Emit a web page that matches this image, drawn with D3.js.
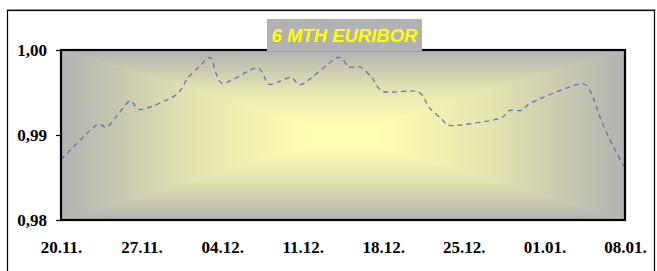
<!DOCTYPE html>
<html>
<head>
<meta charset="utf-8">
<script src="https://cdn.jsdelivr.net/npm/d3@7"></script>
<style>
  html, body { margin: 0; padding: 0; background: #fff; }
  svg { display: block; }
</style>
</head>
<body>
<svg id="chart"></svg>
<script>
// 6M Euribor fixings, business days 20.11. - 08.01.
const dates = [
  '2009-11-20', '2009-11-23', '2009-11-24', '2009-11-25', '2009-11-26', '2009-11-27',
  '2009-11-30', '2009-12-01', '2009-12-02', '2009-12-03', '2009-12-04',
  '2009-12-07', '2009-12-08', '2009-12-09', '2009-12-10', '2009-12-11',
  '2009-12-14', '2009-12-15', '2009-12-16', '2009-12-17', '2009-12-18',
  '2009-12-21', '2009-12-22', '2009-12-23', '2009-12-24',
  '2009-12-28', '2009-12-29', '2009-12-30', '2009-12-31',
  '2010-01-04', '2010-01-05', '2010-01-06', '2010-01-07', '2010-01-08'
];
const rates = [
  0.9871, 0.9911, 0.9909, 0.9925, 0.9940, 0.9930,
  0.9947, 0.9967, 0.9980, 0.9991, 0.9961,
  0.9979, 0.9960, 0.9963, 0.9968, 0.9960,
  0.9991, 0.9980, 0.9980, 0.9968, 0.9951,
  0.9951, 0.9932, 0.9920, 0.9911,
  0.9919, 0.9929, 0.9929, 0.9939,
  0.9960, 0.9951, 0.9915, 0.9886, 0.9861
];
const yTicks = [0.98, 0.99, 1.00];
const xTicks = ['2009-11-20', '2009-11-27', '2009-12-04', '2009-12-11',
                '2009-12-18', '2009-12-25', '2010-01-01', '2010-01-08'];
const title = '6 MTH EURIBOR';

const width = 657, height = 271;
const plot = {left: 61, right: 625, top: 50, bottom: 220};
const parse = d3.timeParse('%Y-%m-%d');

const svg = d3.select('#chart')
  .attr('width', width)
  .attr('height', height);

// outer frame
svg.append('line')
  .attr('x1', 7).attr('x2', 656).attr('y1', 9.5).attr('y2', 9.5)
  .attr('stroke', '#aaa');
svg.append('rect')
  .attr('x', 7.5).attr('y', 10.5)
  .attr('width', 647).attr('height', 280)
  .attr('fill', 'none')
  .attr('stroke', '#000')
  .attr('stroke-width', 1.2);

const x = d3.scaleTime()
  .domain([parse(xTicks[0]), parse(xTicks[xTicks.length - 1])])
  .range([plot.left, plot.right]);
const y = d3.scaleLinear()
  .domain([0.98, 1.00])
  .range([plot.bottom, plot.top]);

// rectangular "from center" gradient: four triangles
const defs = svg.append('defs');
const cx = (plot.left + plot.right) / 2, cy = (plot.top + plot.bottom) / 2;
const corners = [
  [plot.left, plot.top], [plot.right, plot.top],
  [plot.right, plot.bottom], [plot.left, plot.bottom]
];
const sides = [
  {id: 'gTop', a: 0, b: 1, ex: cx, ey: plot.top},
  {id: 'gRight', a: 1, b: 2, ex: plot.right, ey: cy},
  {id: 'gBottom', a: 2, b: 3, ex: cx, ey: plot.bottom},
  {id: 'gLeft', a: 3, b: 0, ex: plot.left, ey: cy}
];
sides.forEach(s => {
  const g = defs.append('linearGradient')
    .attr('id', s.id)
    .attr('gradientUnits', 'userSpaceOnUse')
    .attr('x1', cx).attr('y1', cy)
    .attr('x2', s.ex).attr('y2', s.ey);
  g.append('stop').attr('offset', 0).attr('stop-color', '#ffffb2');
  g.append('stop').attr('offset', 0.12).attr('stop-color', '#ffffb2');
  g.append('stop').attr('offset', 0.55).attr('stop-color', '#e2e2b0');
  g.append('stop').attr('offset', 1).attr('stop-color', '#b2b2b2');
});
const bg = svg.append('g');
sides.forEach(s => {
  const p = [[cx, cy], corners[s.a], corners[s.b]];
  bg.append('path')
    .attr('d', 'M' + p.map(d => d.join(',')).join('L') + 'Z')
    .attr('fill', `url(#${s.id})`)
    .attr('stroke', `url(#${s.id})`)
    .attr('stroke-width', 0.6);
});

// series
const data = dates.map((d, i) => ({date: parse(d), value: rates[i]}));
const line = d3.line()
  .x(d => x(d.date))
  .y(d => y(d.value))
  .curve(d3.curveCardinal.tension(0.2));

svg.append('path')
  .datum(data)
  .attr('d', line)
  .attr('fill', 'none')
  .attr('stroke', '#5a6fb4')
  .attr('stroke-width', 1.2)
  .attr('stroke-dasharray', '5,4');

// plot frame
svg.append('rect')
  .attr('x', plot.left).attr('y', plot.top)
  .attr('width', plot.right - plot.left)
  .attr('height', plot.bottom - plot.top)
  .attr('fill', 'none')
  .attr('stroke', '#000')
  .attr('stroke-width', 2.2);

// y axis
const yAxis = svg.append('g')
  .attr('transform', `translate(${plot.left},0)`)
  .call(d3.axisLeft(y)
    .tickValues(yTicks)
    .tickSize(5)
    .tickPadding(9)
    .tickFormat(d => d3.format('.2f')(d).replace('.', ',')));
yAxis.select('.domain').remove();
yAxis.selectAll('line').attr('stroke', '#000').attr('stroke-width', 1.2);
yAxis.selectAll('text')
  .attr('fill', '#000')
  .style('font-family', '"Liberation Serif", "Times New Roman", serif')
  .style('font-size', '17px')
  .style('font-weight', 'bold');

// x axis
const xAxis = svg.append('g')
  .attr('transform', `translate(0,${plot.bottom})`)
  .call(d3.axisBottom(x)
    .tickValues(xTicks.map(parse))
    .tickSize(0)
    .tickPadding(21)
    .tickFormat(d3.timeFormat('%d.%m.')));
xAxis.select('.domain').remove();
xAxis.selectAll('text')
  .attr('fill', '#000')
  .style('font-family', '"Liberation Serif", "Times New Roman", serif')
  .style('font-size', '17px')
  .style('font-weight', 'bold');

// title box
svg.append('rect')
  .attr('x', 267).attr('y', 19)
  .attr('width', 155).attr('height', 32)
  .attr('fill', '#b2b2b2');
svg.append('text')
  .attr('x', 344.5).attr('y', 42)
  .attr('text-anchor', 'middle')
  .style('font-family', '"Liberation Sans", Arial, sans-serif')
  .style('font-size', '18.5px')
  .style('font-weight', 'bold')
  .style('font-style', 'italic')
  .attr('fill', '#ffff00')
  .text(title);
</script>
</body>
</html>
